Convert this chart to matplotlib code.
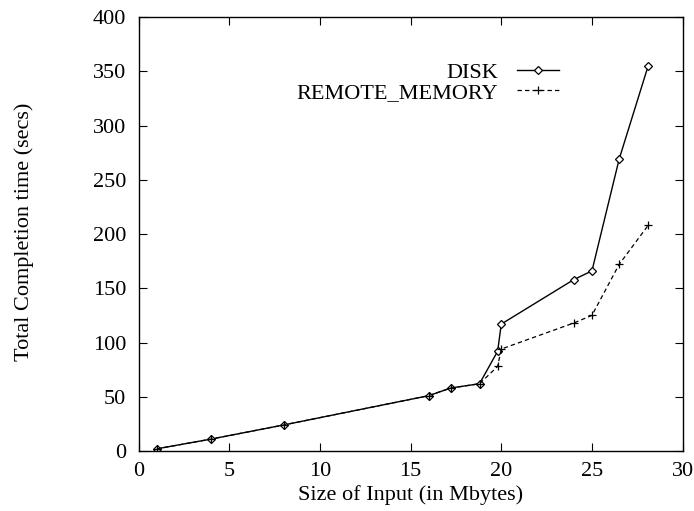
import matplotlib
matplotlib.use("Agg")
import matplotlib.pyplot as plt

plt.rcParams['font.family'] = ['Liberation Serif', 'DejaVu Serif']

disk_x = [1, 4, 8, 16, 17.2, 18.8, 19.8, 20, 24, 25, 26.5, 28.1]
disk_y = [2, 11, 24, 51, 58, 62, 92, 117, 158, 166, 269, 355]
rm_x = [1, 4, 8, 16, 17.2, 18.8, 19.8, 20, 24, 25, 26.5, 28.1]
rm_y = [2, 11, 24, 51, 58, 62, 78, 94, 118, 125, 172, 208]

FS = 16

fig = plt.figure(figsize=(6.94, 5.11), dpi=100)
ax = fig.add_axes([0.1997, 0.1174, 0.7839, 0.8493])

ax.plot(disk_x, disk_y, '-', color='black', lw=1.0, marker='D', ms=4.5,
        mfc='white', mec='black', mew=0.9, label='DISK')
ax.plot(rm_x, rm_y, '--', color='black', lw=0.9, dashes=(3.5, 2.5), marker='+', ms=6,
        mew=0.9, label='REMOTE_MEMORY')

ax.set_xlim(0, 30)
ax.set_ylim(0, 400)
ax.set_xticks(range(0, 31, 5))
ax.set_yticks(range(0, 401, 50))
ax.tick_params(direction='in', top=True, right=True, length=6, width=0.8,
               labelsize=FS)
ax.tick_params(axis='x', pad=8)
ax.tick_params(axis='y', pad=9)
for s in ax.spines.values():
    s.set_linewidth(1.0)

ax.set_xlabel('Size of Input (in Mbytes)', fontsize=FS)
ax.set_ylabel('Total Completion time (secs)', fontsize=FS)
ax.xaxis.set_label_coords(0.5, -0.078)
ax.yaxis.set_label_coords(-0.192, 0.505)

leg = ax.legend(loc='upper right', bbox_to_anchor=(0.773, 0.896), frameon=False,
                markerfirst=False, fontsize=FS, handlelength=1.9,
                handletextpad=0.85, labelspacing=0.0, borderaxespad=0,
                borderpad=0)
for t in leg.get_texts():
    t.set_ha('right')

fig.savefig('out.png', dpi=100)
